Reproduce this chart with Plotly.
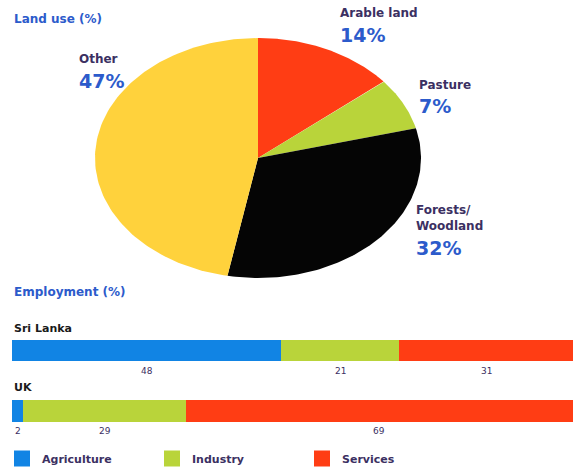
"""Land use pie and employment bars"""

import numpy as np
import plotly.graph_objects as go

# land use (%) - clockwise from 12 o'clock
land_names = ["Arable land", "Pasture", "Forests/<br>Woodland", "Other"]
land_values = [14, 7, 32, 47]
land_colors = ["#FF3D14", "#B9D43A", "#050505", "#FFD23C"]

# employment (%)
countries = ["Sri Lanka", "UK"]
sectors = ["Agriculture", "Industry", "Services"]
agriculture = [48, 2]
industry = [21, 29]
services = [31, 69]
sector_colors = ["#1184E4", "#B9D43A", "#FF3D14"]

W, H = 573, 473
FONT = "DejaVu Sans"
BLUE = "#2C5BCB"
DARK = "#3B3062"


def px_x(x):
    return x / W


def px_y(y):
    return 1 - y / H


fig = go.Figure()

# pie drawn as elliptical wedges on its own axes
cum = np.cumsum([0] + land_values) / sum(land_values)
for i, name in enumerate(land_names):
    t = np.linspace(cum[i], cum[i + 1], 120) * 2 * np.pi
    xs = np.concatenate([[0], np.sin(t), [0]])
    ys = np.concatenate([[0], np.cos(t), [0]])
    fig.add_trace(go.Scatter(x=xs, y=ys, mode="lines", fill="toself",
                             fillcolor=land_colors[i], line={"width": 0},
                             xaxis="x2", yaxis="y2", showlegend=False,
                             hoverinfo="skip"))

# stacked employment bars
for vals, name, col in zip([agriculture, industry, services], sectors,
                           sector_colors):
    fig.add_trace(go.Bar(x=vals, y=countries, orientation="h", name=name,
                         marker={"color": col, "line": {"width": 0}},
                         width=0.355, showlegend=False))
    # legend entry with a bigger square swatch
    fig.add_trace(go.Scatter(x=[None], y=[None], mode="markers", name=name,
                             marker={"symbol": "square", "size": 16,
                                     "color": col}))

# value labels under the bars
starts = np.zeros(len(countries))
for vals in [agriculture, industry, services]:
    for j, c in enumerate(countries):
        fig.add_annotation(x=starts[j] + vals[j] / 2, y=c, xref="x", yref="y",
                           text=str(vals[j]), showarrow=False, yshift=-20,
                           font={"size": 9, "color": DARK, "family": FONT})
    starts += np.array(vals)

# pie labels (name, percent, pixel anchor)
pie_labels = [
    (land_names[0], land_values[0], 338, 13, 35),
    (land_names[1], land_values[1], 417, 85, 106),
    (land_names[2], land_values[2], 414, 218, 248),
    (land_names[3], land_values[3], 77, 59, 81),
]
for name, val, x, y1, y2 in pie_labels:
    fig.add_annotation(x=px_x(x), y=px_y(y1), xref="paper", yref="paper",
                       text="<b>" + name + "</b>", showarrow=False,
                       xanchor="left", yanchor="middle", align="left",
                       font={"size": 12, "color": DARK, "family": FONT})
    fig.add_annotation(x=px_x(x), y=px_y(y2), xref="paper", yref="paper",
                       text="<b>%d%%</b>" % val, showarrow=False,
                       xanchor="left", yanchor="middle",
                       font={"size": 19, "color": BLUE, "family": FONT})

# headings
for txt, x, y, col, size in [("Land use (%)", 12, 19, BLUE, 12),
                             ("Employment (%)", 12, 292, BLUE, 12),
                             ("Sri Lanka", 12, 328, "#1A1A1A", 11),
                             ("UK", 12, 387, "#1A1A1A", 11)]:
    fig.add_annotation(x=px_x(x), y=px_y(y), xref="paper", yref="paper",
                       text="<b>" + txt + "</b>", showarrow=False,
                       xanchor="left", yanchor="middle",
                       font={"size": size, "color": col, "family": FONT})

fig.update_layout(
    width=W, height=H,
    margin={"l": 0, "r": 0, "t": 0, "b": 0},
    paper_bgcolor="white", plot_bgcolor="rgba(0,0,0,0)",
    barmode="stack",
    xaxis={"domain": [px_x(12), 1], "range": [0, 100], "visible": False,
           "fixedrange": True},
    yaxis={"domain": [px_y(440), px_y(330)], "range": [1.479, -0.339],
           "visible": False},
    xaxis2={"domain": [0, 1], "range": [-258 / 163, 315 / 163],
            "visible": False, "anchor": "y2"},
    yaxis2={"domain": [0, 1], "range": [(158 - 473) / 120, 158 / 120],
            "visible": False, "anchor": "x2"},
    legend={"orientation": "h", "x": px_x(2), "y": 0,
            "xanchor": "left", "yanchor": "bottom", "traceorder": "normal",
            "entrywidth": 105, "entrywidthmode": "pixels",
            "font": {"size": 11, "color": DARK, "family": FONT,
                     "weight": "bold"},
            "bgcolor": "rgba(0,0,0,0)"},
    showlegend=True,
)

fig.write_html("out.html", config={"displayModeBar": False},
               post_script="document.body.style.margin='0';")
